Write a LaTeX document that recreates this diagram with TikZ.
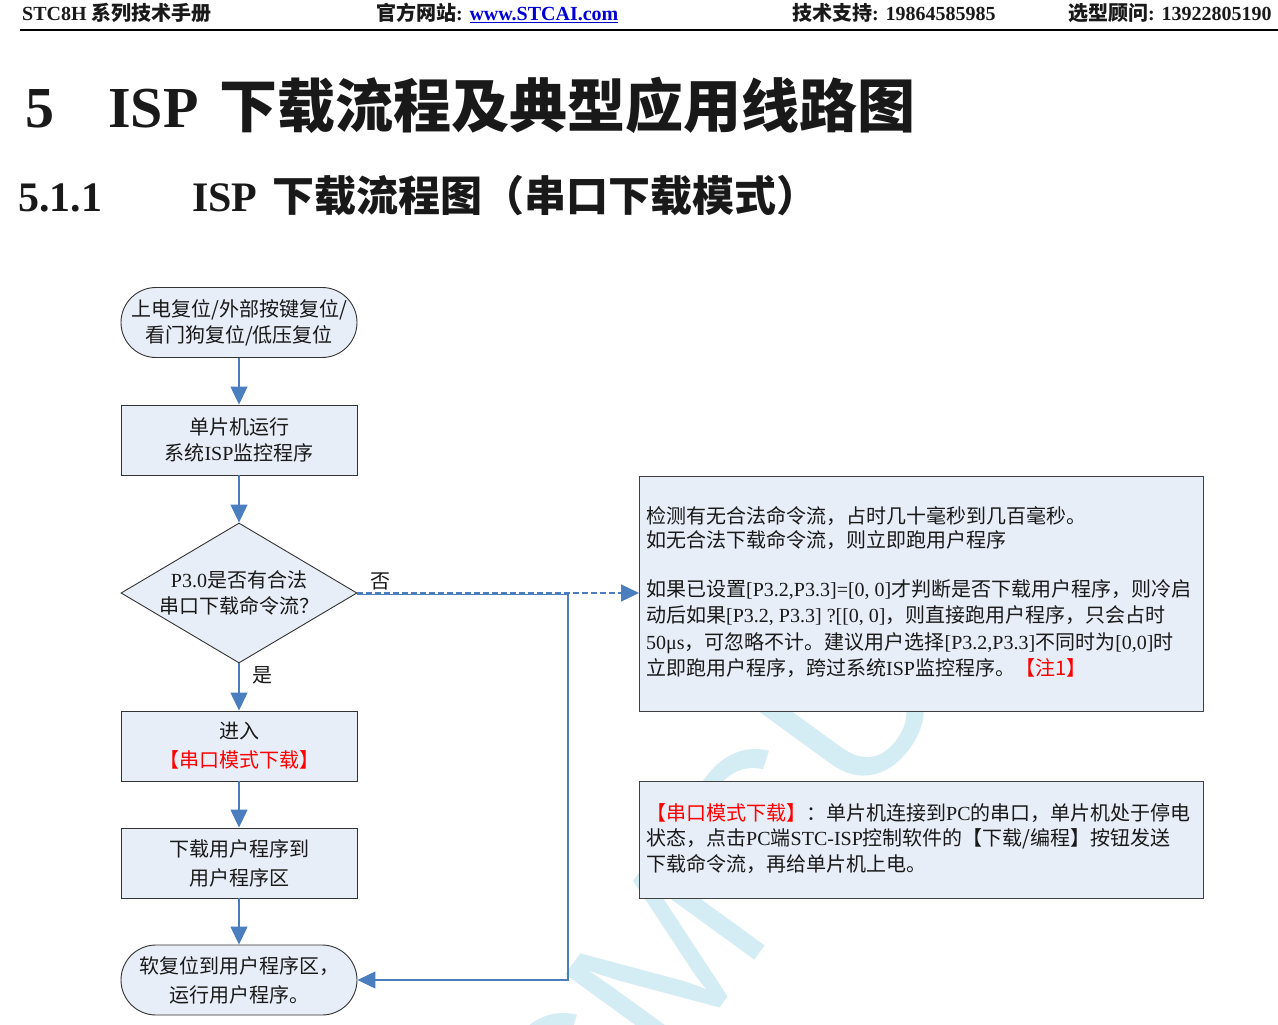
\documentclass[tikz,border=0pt]{standalone}
\usepackage{fontspec}
\setmainfont{Liberation Serif}
\newfontfamily\cjk{Noto Sans CJK SC}
\newfontfamily\wmfont{Liberation Sans}
\usetikzlibrary{shapes.geometric,arrows.meta}
\definecolor{boxfill}{RGB}{232,238,247}
\definecolor{lineblue}{RGB}{74,126,190}
\definecolor{wmcyan}{RGB}{212,236,243}
\definecolor{linkblue}{RGB}{0,0,210}
\definecolor{txt}{RGB}{25,25,25}
\newcommand\C[1]{{\cjk #1}}
\begin{document}
\begin{tikzpicture}[x=1pt,y=-1pt,
 every node/.style={inner sep=0pt, text=txt},
 flow/.style={draw=black!80, line width=0.9pt, fill=boxfill, minimum width=236pt, minimum height=70pt, align=center, font=\fontsize{20}{26}\selectfont},
 term/.style={flow, rounded corners=35pt},
 dec/.style={diamond, draw=black!80, line width=0.9pt, fill=boxfill, minimum width=236pt, minimum height=140pt},
 note/.style={draw=black!75, line width=0.9pt, fill=boxfill, anchor=north west},
 notetext/.style={anchor=west, align=left},
 conn/.style={draw=lineblue, line width=1.3pt},
 arr/.style={conn, -{Triangle[length=18pt,width=17pt]}},
 lbl/.style={font=\fontsize{20}{24}\selectfont},
 hdr/.style={anchor=base west, font=\fontsize{20}{22}\selectfont\bfseries},
 ttl/.style={anchor=base west, font=\fontsize{58}{60}\selectfont\bfseries},
 sub/.style={anchor=base west, font=\fontsize{42}{44}\selectfont\bfseries},
]
\useasboundingbox (0,0) rectangle (1278,1025);
\fill[white] (0,0) rectangle (1278,1025);

% watermark
\begin{scope}
\clip (0,0) rectangle (1278,1025);
\node[rotate=54, text=wmcyan, font=\wmfont\fontsize{210}{210}\selectfont] (wm) at (631,1007) {STCMCU};
\end{scope}

% header
\node[hdr] (h1) at (22,21) {STC8H \C{系列技术手册}};
\node[hdr] (h2) at (376,21) {\C{官方网站}: \textcolor{linkblue}{\underline{www.STCAI.com}}};
\node[hdr] (h3) at (792,21) {\C{技术支持}: 19864585985};
\node[hdr] (h4) at (1068,21) {\C{选型顾问}: 13922805190};
\coordinate (rl) at (20,30);
\coordinate (rr) at (1278,30);
\draw[line width=2pt, black] (rl) -- (rr);

% titles
\node[ttl] (t1) at (25,127) {5};
\node[ttl] (t2) at (108,127) {ISP\hspace{21pt}\C{下载流程及典型应用线路图}};
\node[sub] (s1) at (18,211) {5.1.1};
\node[sub] (s2) at (192,211) {ISP\hspace{15pt}\C{下载流程图（串口下载模式）}};

% flowchart
\node[term] (n1) at (239,322.5) {\C{上电复位/外部按键复位/}\\\C{看门狗复位/低压复位}};
\node[flow] (n2) at (239,440) {\C{单片机运行}\\\C{系统}ISP\C{监控程序}};
\node[dec] (d) at (239,593) {};
\node[align=center, font=\fontsize{20}{26}\selectfont] (dt) at (239,593) {P3.0\C{是否有合法}\\\C{串口下载命令流？}};
\node[flow, font=\fontsize{20}{29}\selectfont] (n3) at (239,746) {\C{进入}\\\textcolor{red}{\C{【串口模式下载】}}};
\node[flow, font=\fontsize{20}{29}\selectfont] (n4) at (239,863) {\C{下载用户程序到}\\\C{用户程序区}};
\node[term, font=\fontsize{20}{29}\selectfont] (n5) at (239,980) {\C{软复位到用户程序区，}\\\C{运行用户程序。}};

% notes
\node[note, minimum width=564pt, minimum height=235pt] (b1) at (639,476) {};
\node[note, minimum width=564pt, minimum height=117pt] (b2) at (639,781) {};
\node[notetext, font=\fontsize{20}{24.5}\selectfont] (b1a) at (646,528) {\C{检测有无合法命令流，占时几十毫秒到几百毫秒。}\\\C{如无合法下载命令流，则立即跑用户程序}};
\node[notetext, font=\fontsize{20}{26.3}\selectfont] (b1b) at (646,628.5) {\C{如果已设置}[P3.2,P3.3]=[0, 0]\C{才判断是否下载用户程序，则冷启}\\
\C{动后如果}[P3.2, P3.3] ?[[0, 0]\C{，则直接跑用户程序，只会占时}\\
50μs\C{，可忽略不计。建议用户选择}[P3.2,P3.3]\C{不同时为}[0,0]\C{时}\\
\C{立即跑用户程序，跨过系统}ISP\C{监控程序。}\textcolor{red}{\C{【注1】}}};
\node[notetext, font=\fontsize{20}{25.5}\selectfont] (b2t) at (646,838.5) {\textcolor{red}{\C{【串口模式下载】}}\C{：单片机连接到}PC\C{的串口，单片机处于停电}\\
\C{状态，点击}PC\C{端}STC-ISP\C{控制软件的【下载/编程】按钮发送}\\
\C{下载命令流，再给单片机上电。}};

% labels
\node[lbl] (no) at (380,581) {\C{否}};
\node[lbl] (yes) at (262,675) {\C{是}};

% connectors
\draw[arr] (n1) -- (n2);
\draw[arr] (n2) -- (d);
\draw[arr] (d) -- (n3);
\draw[arr] (n3) -- (n4);
\draw[arr] (n4) -- (n5);
\draw[arr, dashed, dash pattern=on 6pt off 3pt] (d.east) -- (d.east -| b1.west);
\coordinate (bend) at (568,0);
\draw[arr] ([yshift=-1.8pt]d.east) -- ([yshift=-1.8pt]d.east -| bend) -- (bend |- n5.east) -- (n5.east);
\end{tikzpicture}
\end{document}
